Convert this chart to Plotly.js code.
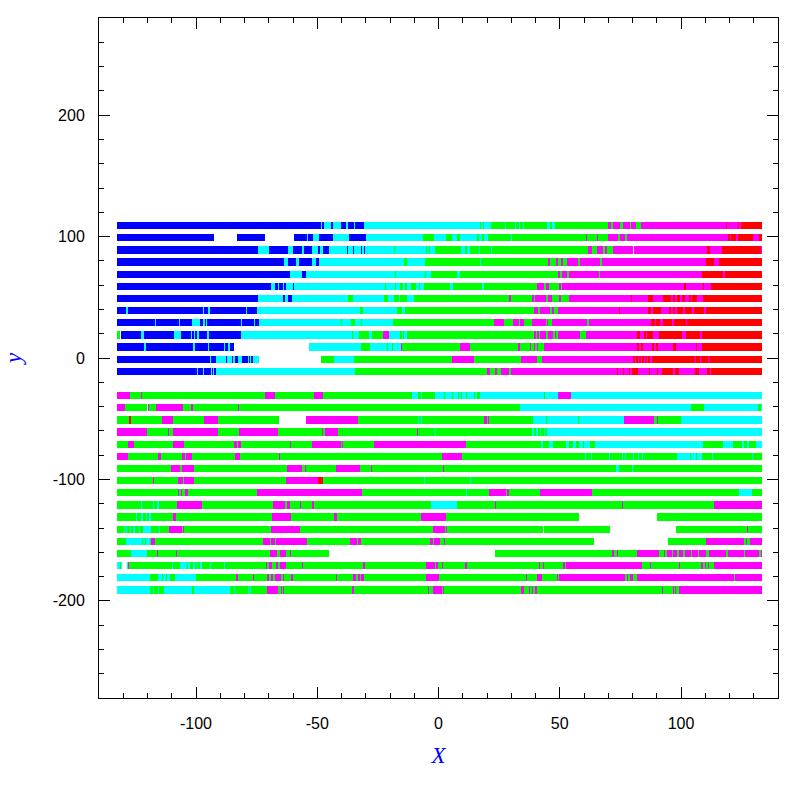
<!DOCTYPE html>
<html><head><meta charset="utf-8">
<script src="https://cdn.plot.ly/plotly-3.0.1.min.js"></script>
<style>html,body{margin:0;padding:0;background:#fff}</style>
</head><body><div id="chart" style="width:797px;height:797px"></div>
<script>
// Row positions (y) and colour segments per row.
// Each token = colour letter + end x of that segment (B blue, C cyan, G green, M magenta, R red, W gap).
const rowY = [110,100,90,80,70,60,50,40,30,20,10,0,-10,
              -30,-40,-50,-60,-70,-80,-90,-100,-110,-120,-130,-140,-150,-160,-170,-180,-190];
const xStart = -132.5;
const rowSegments = [
 "B-48.5 C-48 B-47.3 C-44.3 B-43.5 C-40.2 B-38.1 C-37.4 B-34.8 C-34.4 B-30.7 C17.1 G17.6 C18.3 G18.8 C21.5 G27.5 C27.9 G31.6 C32 G33 C33.4 G34.7 C35.2 G44.6 C46 G46.8 C48 G70 M71.3 G72 M75 G76 M79 G79.5 M81.5 G83.7 M118.4 R119.1 M123.3 R123.9 M124.9 R133.5",
 "B-92.6 W-83.1 B-71.6 W-59.6 B-54.1 C-53.7 B-51.6 C-49.4 G-49.1 B-43.5 C-36.9 B-29.9 C-6.5 G-1.8 C3.1 G5.6 C7.7 G8.9 C15.9 G16.7 C18 G18.8 C20.5 G29.9 C30.3 G60.8 M61.4 G65.5 M65.9 G70 M74.2 G74.9 M76.9 G77.9 M119.3 R120 M120.5 R122.7 M123.4 R129.6 M132.2 R133.5",
 "B-74.5 C-69.9 B-62.1 C-60 B-56.3 C-55.5 B-52.2 C-49.7 B-48.9 C-47.6 B-45.1 C-37.7 B-37.3 C-35.3 B-34.8 C-32 B-31.5 C-30.7 B-30.3 C-18.3 G-17.9 C-5.1 G-4.7 C-3.9 G-3.5 C-1.4 G9.3 C10.9 G11.8 C13 G16.7 C17.1 G21.7 C22.1 G61.7 M63.3 G65.5 M67.8 G68.7 M69.6 G72 M80.2 W80.8 M110.9 R112 M116.9 R133 M133.5",
 "B-63.7 C-62.1 B-58.8 C-57.5 B-52.2 C-50.5 B-49.3 C-14.2 G-13 C-5.5 G17.3 C17.7 G45.2 M46 G48.5 M49.3 G50.5 M51.3 G53 M57.5 G58.4 M66.6 G67.4 M110.3 R113.6 M115.7 R133.5",
 "B-61.3 C-56.3 B-54.7 C-17.9 G-17.5 C-5.5 G-5.1 C-3.1 G7.7 C8.9 G49.3 M50.1 G51 M53 G53.8 M66.2 G66.6 M108.7 R117.3 M118.2 R133.5",
 "B-69.1 C-67.4 B-66.2 C-65.8 B-64.1 C-63.7 B-62.9 C-60 B-59.6 C-22.1 G-21.6 C-17.9 G-17.5 C-15.9 G-14.6 C-13.8 G-13 C-11.3 G-9.3 C-8 G-7.6 C-6 G4.8 C6 G18 C18.8 G40.6 M43.5 G44.3 M45.6 G49.7 M50.5 G50.9 M101.3 R102.1 M109.1 R109.5 M112.4 R133.5",
 "B-74.5 C-64.1 B-63.3 C-62.1 B-60.4 C-37.3 G-35.3 C-22.5 G-20.8 C-18.3 G-16.3 C-15.9 G-13 C-10.1 G29.1 M29.9 G38.6 M39.4 G39.8 M44.3 G45.2 M46.8 G49.7 M50.5 G53.8 M79.4 R79.8 M86.4 R88.5 M92.6 R95.9 M96.7 R97.5 M98.4 R99.6 M100.4 R101.7 M103.3 R104.1 M104.6 R106.6 M109.1 R133.5",
 "B-128.9 C-128.1 B-97.1 C-96.7 B-94.9 C-94.3 B-79.4 C-79 B-74.9 C-32.4 G-31.1 C-17.1 G-15 C-13.8 G39.4 M41.1 G41.9 M46 G46.8 M47.6 G49.3 M74.4 R74.9 M86.4 R87.6 M88.5 R91.8 M95.1 R95.9 M96.7 R97.5 M98.4 R100.8 M101.7 R104.6 M105.4 R109.5 M110.3 R133.5",
 "B-116.9 C-116.5 B-107 C-106.6 B-101.7 C-98.4 B-97.1 C-96.3 B-95.9 C-95.5 B-81.5 C-81 B-76.1 C-75.7 B-74 C-40.2 G-39.8 C-36.1 G-34.4 C-32 G-31.5 C-18.7 G22.9 M27 G30.8 M33.2 G33.6 M35.3 G38.6 M44.3 G44.7 M45.2 G46.8 M61.2 G62.1 M87.6 R89.3 M89.7 R91.4 M92.6 R96.3 M97.1 R102.1 M102.5 R133.5",
 "G-131.4 W-131 B-122.7 C-121.5 B-109.1 C-106.2 B-102.1 C-101.7 B-100.9 C-100.4 B-99.6 C-98.8 B-95.5 C-94.7 B-81.5 C-35.7 G-35.3 C-32.8 G-28.7 C-27.4 G-22.9 M-20.4 C-15.9 G-15 C-14.6 G-14.2 C-13 G39.4 M40.2 G40.6 M41.5 G41.9 M44.3 G45.2 M47.2 G48 M48.5 G49.3 M58.4 G60.8 M81.9 R83.1 M84.8 R85.6 M86 R88.5 M91 R100.4 M102.1 R108 M108.5 R133.5",
 "B-121.5 C-120.7 B-101.3 C-100.4 B-95.1 C-94.7 B-88.5 C-88.1 B-86.8 C-86 B-84.4 W-53.4 C-32 G-28.2 C-21.2 G-20.8 C-19.2 G-18.7 C-15.5 M-15 G8.9 M13 G32.8 M33.6 G37.8 M38.2 G39.4 M39.8 G40.6 M41.1 G43.5 M81.9 R82.7 M83.5 R84.3 M88.1 R88.9 M89.7 R90.5 M96.7 R98 M106.2 R106.6 M108.7 R133.5",
 "B-94.3 C-93.8 B-91.8 C-87.7 B-87.2 C-85.2 B-84.8 C-83.9 B-82.7 C-81 B-78.6 C-78.2 B-77.8 C-77.3 B-76.5 C-74 W-48.5 G-43.1 C-34.8 G5.6 M14.7 G34.1 M40.6 G42.7 M80.2 R81 M81.5 R82.3 M82.7 R83.5 M83.9 R84.8 M85.2 R86 M86.4 R87.2 M88.1 R105.8 M106.2 R107.9 M108.3 R111.2 M111.6 R133.5",
 "B-99.6 C-99.2 B-97.1 C-96.7 B-93.8 C-93.4 B-93 C-92.6 B-91.8 C-34.4 G20 M21.3 G23.3 M24.1 G25.8 M29.1 G29.9 M73.6 R74 M76.1 R76.5 M78.6 R79 M79.8 R82.3 M86.8 R87.2 M90.1 R90.5 M92.2 R96.7 M97.5 R99.2 M105.8 R107.4 M110.7 R112 M112.5 R133.5",
 "M-127.3 G-122.7 M-122.3 G-71.6 M-67.4 G-51.4 M-47.6 G-10.9 C-8.4 G-7.2 C-6.8 G-1.4 C2.3 G2.7 C5.5 G6 C8.1 G8.5 C9.3 G9.7 C11.2 G11.6 C14.7 G15.1 C15.9 G17.1 C43.5 G43.9 C49.3 M54.6 C133.5",
 "M-129.3 G-120.2 W-119.8 M-119.4 G-116.5 M-105.4 G-102.1 M-101.3 G-82.7 M-82.3 G33.6 C104.1 G109.5 C131.8 G133 C133.5",
 "G-127.7 R-126.8 G-114 M-109.5 G-96.7 M-91 G-65.8 W-54.7 M-33.2 G-8.4 C-8 G-7.2 C-6.8 G18.8 M20 G20.4 M20.9 G39 C44.3 G44.7 C57.5 G58 C76.5 M88.9 G90.1 M90.5 G100 C133.5",
 "M-120.2 G-111.6 M-111.2 G-109.5 M-91 G-82.3 M-66.2 G-48 M-47.6 G-46.8 M-41.4 G-8.8 M-8.4 G-1.4 C-1 G38.6 C39.4 G40.2 C41 G42 C42.3 G43.5 C43.9 G44.7 C133.5",
 "G-128.1 M-125.6 G-109.5 M-105 G-84.4 M-83.1 G-82.7 M-81.5 G-61.3 M-60.8 G-52.2 M-40.2 G-39.8 M-39.4 G-26.6 M11.4 G42.3 C43.1 G45.6 C47.2 G52.6 C54 G55.5 C56.5 G58 C59.5 G60 C62.5 G64.5 C109.1 G117.3 C121.5 G125.2 C126 G127.2 C128.1 G131 C133.5",
 "M-128.1 G-115.7 M-114.5 G-105.8 M-104.6 G-104.2 M-101.7 G-84 M-81.9 G-65.8 M-65.4 G1.5 M9.7 G60.4 C60.8 G62.9 C63.3 G70.3 C70.7 G75.7 C76.1 G76.9 C77.3 G80.2 C80.6 G82.3 C82.7 G84 C84.4 G98.4 C103.7 G104.1 C106.2 G106.6 C108.7 G112.8 C113.2 G129.3 C129.7 G133.5",
 "G-110.3 M-106.6 G-105.8 M-100.9 G-62.5 M-56.3 G-55.1 M-54.7 G-42.3 M-32.4 G-27.8 M-27.4 G1.9 M2.3 G73.2 C74.4 G79.8 C80.2 G133.5",
 "G-117.8 M-117.4 G-107.4 M-105.3 G-104.9 M-100.9 G-62.9 M-49.7 R-47.6 G-5.9 C-5.5 G13 C13.4 G133.5",
 "G-107.4 M-107 G-106.2 M-105.8 G-104.6 M-103.3 G-74.9 M-31.5 G11.4 C11.8 G20.9 M27.9 G28.3 M28.9 G41.9 M63.3 G123.9 C129.3 G133.5",
 "G-122.7 C-122.3 G-117.8 C-117.4 G-116.1 C-115.3 G-107.9 M-97.5 G-68.3 M-63.3 G-62.5 M-61.3 G-57.1 M-56.7 G-52.2 M-51.4 G-3.1 C7.7 G23.3 M23.7 G75.7 M76.1 G113.6 M133.5",
 "G-124.8 C-124.4 G-122.7 C-121.9 G-120.7 C-120.2 G-119.4 C-118.6 G-109.5 M-108.3 G-68.7 M-60.8 G-43.1 M-41.9 G-7.2 M3.1 G58 W90.1 G133.5",
 "G-129.7 C-129.3 G-128.9 C-128.5 G-127.3 C-126.8 G-126 C-125.2 G-123.5 C-123.1 G-121.9 C-118.6 G-115.3 C-114.9 G-111.2 M-105.8 G-105.4 M-105 G-69.1 M-57.1 G-2.3 M2.7 G3.1 M3.5 G43.1 W43.5 G70.7 W98 G127.2 M127.7 G133.5",
 "G-128.9 C-122.3 G-121.9 C-121.1 G-120.7 C-119 G-118.6 M-116.9 G-72.4 M-69.5 G-69.1 M-67.4 G-67 M-54.2 G-36.5 M-33.6 G-33.2 M-32 G-3.5 M-2.3 G-1.8 M0.6 G2.3 M2.7 G64.1 W94.7 G110.3 M126 G126.8 M127.2 G128.5 M133.5",
 "G-126.8 C-120.2 G-116.1 M-115.7 G-108.3 M-107.9 G-69.5 M-66.6 G-65.4 M-62.9 G-61.3 M-60.8 G-45.1 W23.3 G71.6 M72.4 G73.6 M74 G81.9 M91 G92.8 M93.5 G94.2 M96.3 G96.7 M98.5 G99 M101 G101.5 M104 G104.5 M107 G107.5 M110.4 G111.7 M118.5 G119.5 M126 G126.5 M132 G133 M133.5",
 "C-131.3 G-130.9 C-130.5 W-128.5 C-128.1 M-127.7 G-109.9 C-109.5 G-106.6 C-103.7 G-103.3 C-102.5 G-101.3 C-100.4 G-99.6 C-99.2 G-98.4 C-97.5 G-94.3 C-93.8 G-88.5 C-88.1 G-71.2 M-70.7 G-69.9 M-68.7 G-67 M-66.2 G-65.4 M-62.9 G-56.3 M-55.9 G-31.1 M-30.3 G-5.1 M-1.4 G-1 M-0.2 G1.5 M1.9 G11 M11.8 G41.5 M41.9 G43.1 M43.5 G51.3 M52.2 G52.6 M83.9 G87.2 M87.6 G99.2 M99.6 G108.3 M109.1 G109.9 M110.3 G111.2 M111.6 G113.6 M133.5",
 "C-119 G-115.7 C-114 G-113.6 C-112.4 G-112 C-110.8 G-108.7 C-100 G-83.5 M-82.7 G-76.5 M-76.1 G-70.7 M-69.9 G-69.1 M-68.3 G-67.4 M-65 G-64.1 M-63.7 G-60.8 M-60 G-42.3 M-41.9 G-35.3 M-34 G-33.2 M-32.4 G-32 M-30.7 G-5.1 M0.2 G36.1 M36.5 G40.6 M42.7 G48.9 M49.3 G49.7 M76.9 G77.7 M78.2 G79 M80.2 G81.9 M121.9 G122.3 M133.5",
 "C-119 G-117.8 C-117.4 G-115.7 C-115.3 G-113.2 C-101.7 G-100.9 C-86 G-84.4 C-83.9 G-78.6 C-78.2 G-77.8 C-77.3 G-70.7 M-66.2 G-65 M-64.6 G-64.1 M-63.7 G-35.7 M-34.8 G-4.3 M-3.9 G-2.3 M1.5 G1.9 M2.3 G34.1 M35.3 G37.4 M37.8 G38.6 M39 G39.8 M40.6 G92.2 M92.6 G96.7 M97.1 G97.5 M98 G99.2 M133.5"
];
const colourCodes = ['B','C','G','M','R'];
const colourValues = ['#0000ff','#00ffff','#00ff00','#ff00ff','#ff0000'];
const xTickVals = [-100,-50,0,50,100];
const xTickText = ['-100','-50','0','50','100'];
const yTickVals = [-200,-100,0,100,200];
const yTickText = ['-200','-100','0','100','200'];

const traceMap = {};
colourCodes.forEach((c,i)=>{
  traceMap[c] = {type:'bar', orientation:'h', x:[], y:[], base:[], width:6, offset:-4,
    marker:{color:colourValues[i], line:{width:0}}, hoverinfo:'skip', showlegend:false};
});
rowSegments.forEach((s,i)=>{
  let start = xStart;
  s.trim().split(/\s+/).forEach(tok=>{
    const c = tok[0], end = parseFloat(tok.slice(1));
    if (traceMap[c]) {
      traceMap[c].x.push(end-start);
      traceMap[c].base.push(start);
      traceMap[c].y.push(rowY[i]);
    }
    start = end;
  });
});
const data = colourCodes.map(c=>traceMap[c]);

const axisCommon = {
  ticks:'inside', ticklen:11, tickwidth:1, tickcolor:'#000',
  showline:true, linecolor:'#000', linewidth:1, mirror:'ticks',
  showgrid:false, zeroline:false, tickmode:'array',
  tickfont:{family:'Liberation Sans, Arial, sans-serif', size:16, color:'#000'}
};
const layout = {
  width:797, height:797,
  margin:{l:99, r:19, t:18, b:99},
  paper_bgcolor:'#ffffff', plot_bgcolor:'#ffffff',
  barmode:'overlay', bargap:0,
  xaxis: Object.assign({}, axisCommon, {
    range:[-140,140], tickvals:xTickVals, ticktext:xTickText, ticklabelstandoff:11,
    minor:{tick0:0, dtick:10, ticks:'inside', ticklen:5, tickwidth:1, tickcolor:'#000', showgrid:false},
    title:{text:'<i>X</i>', standoff:15, font:{family:'Liberation Serif, Times New Roman, serif', size:23, color:'#0000ff'}}
  }),
  yaxis: Object.assign({}, axisCommon, {
    range:[-280,280], tickvals:yTickVals, ticktext:yTickText, ticklabelstandoff:10,
    minor:{tick0:0, dtick:20, ticks:'inside', ticklen:5, tickwidth:1, tickcolor:'#000', showgrid:false},
    title:{text:'<i>y</i>', standoff:24, font:{family:'Liberation Serif, Times New Roman, serif', size:23, color:'#0000ff'}}
  })
};
Plotly.newPlot('chart', data, layout, {displayModeBar:false, staticPlot:true});
</script>
</body></html>
